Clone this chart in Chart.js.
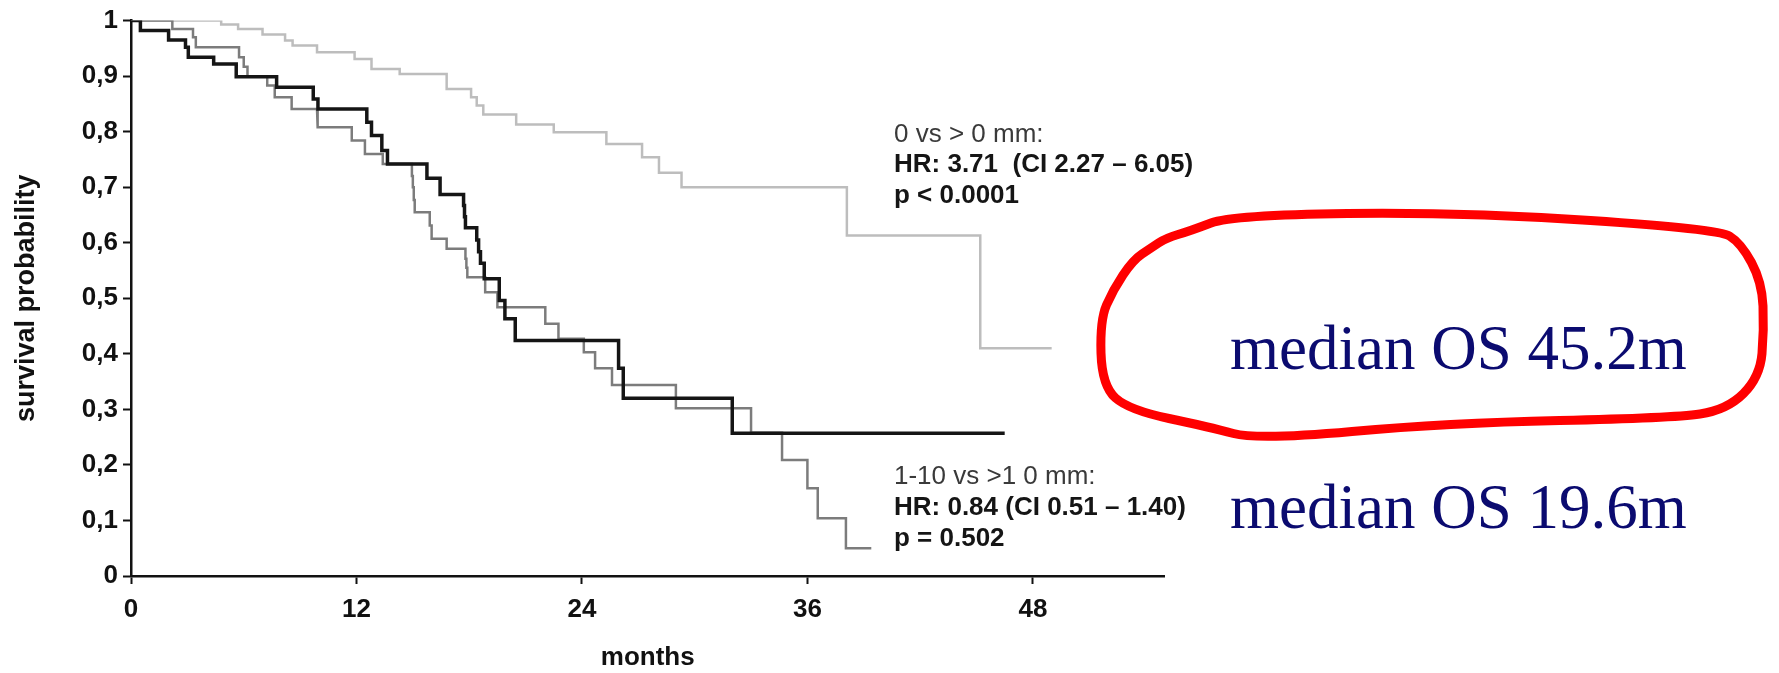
<!DOCTYPE html>
<html>
<head>
<meta charset="utf-8">
<script src="https://cdn.jsdelivr.net/npm/chart.js@4.4.1/dist/chart.umd.min.js"></script>
<style>
  html, body { margin: 0; padding: 0; background: #fff; }
  canvas { display: block; }
</style>
</head>
<body>
<canvas id="km" width="1779" height="673"></canvas>
<script>
// Kaplan–Meier overall survival by depth of invasion.
// Each group: event times (months) and the survival probability after each event.

const monthTicks = [0, 12, 24, 36, 48];
const probTicks  = [0, 0.1, 0.2, 0.3, 0.4, 0.5, 0.6, 0.7, 0.8, 0.9, 1];
const probLabels = ['0', '0,1', '0,2', '0,3', '0,4', '0,5', '0,6', '0,7', '0,8', '0,9', '1'];

// 0 mm
const zeroTimes = [4.8, 5.7, 7.0, 8.2, 8.6, 9.9, 11.9, 12.8, 14.3, 16.8, 18.1, 18.4, 18.75,
                   20.5, 22.5, 25.3, 27.2, 28.1, 29.3, 38.1, 45.2];
const zeroSurv  = [0.993, 0.985, 0.975, 0.964, 0.955, 0.943, 0.931, 0.913, 0.904, 0.877, 0.862,
                   0.847, 0.831, 0.813, 0.799, 0.778, 0.754, 0.726, 0.700, 0.613, 0.410];
const zeroEnd   = 49.0;

// 1-10 mm
const midTimes = [0.5, 2.0, 2.9, 3.05, 4.4, 5.6, 7.75, 9.7, 9.95, 12.55, 12.8, 13.35, 13.65,
                  15.75, 16.45, 17.7, 17.75, 17.8, 18.4, 18.5, 18.6, 18.8, 19.6, 19.9, 20.45,
                  25.95, 26.2, 32.0];
const midSurv  = [0.982, 0.965, 0.952, 0.934, 0.922, 0.899, 0.880, 0.859, 0.841, 0.817, 0.793,
                  0.766, 0.742, 0.716, 0.687, 0.667, 0.647, 0.627, 0.605, 0.584, 0.563, 0.535,
                  0.496, 0.463, 0.424, 0.374, 0.320, 0.257];
const midEnd   = 46.5;

// >10 mm
const deepTimes = [2.2, 3.3, 3.45, 5.75, 6.0, 6.2, 7.25, 7.65, 8.55, 9.9, 9.95, 11.75, 12.45,
                   13.4, 14.95, 15.0, 15.05, 15.1, 15.9, 16.0, 16.8, 17.8, 17.85, 17.9, 18.85,
                   19.5, 22.05, 22.75, 24.1, 24.7, 25.6, 29.0, 33.0, 34.65, 36.0, 36.55, 38.05];
const deepSurv  = [0.985, 0.970, 0.952, 0.934, 0.917, 0.900, 0.883, 0.862, 0.841, 0.824, 0.808,
                   0.784, 0.760, 0.742, 0.720, 0.700, 0.677, 0.655, 0.631, 0.607, 0.589, 0.571,
                   0.555, 0.538, 0.511, 0.484, 0.454, 0.427, 0.403, 0.374, 0.344, 0.302, 0.258,
                   0.209, 0.158, 0.104, 0.050];
const deepEnd   = 39.4;

const statsZero = ['0 vs > 0 mm:', 'HR: 3.71  (CI 2.27 \u2013 6.05)', 'p < 0.0001'];
const statsMid  = ['1-10 vs >1 0 mm:', 'HR: 0.84 (CI 0.51 \u2013 1.40)', 'p = 0.502'];
const medianLabels = ['median OS 45.2m', 'median OS 19.6m'];

// Turn event lists into a step polyline starting at (0, 1)
function kmSteps(times, surv, end) {
  const pts = [{ x: 0, y: 1 }];
  let prev = 1;
  times.forEach((t, i) => {
    pts.push({ x: t, y: prev });
    pts.push({ x: t, y: surv[i] });
    prev = surv[i];
  });
  pts.push({ x: end, y: prev });
  return pts;
}

const SANS = '"Liberation Sans", Arial, Helvetica, sans-serif';
const SERIF = '"Liberation Serif", "Times New Roman", serif';

const annotations = {
  id: 'annotations',
  afterDraw(chart) {
    const ctx = chart.ctx;
    ctx.save();
    ctx.textAlign = 'left';
    ctx.textBaseline = 'alphabetic';

    const block = (lines, x, baselines) => {
      ctx.fillStyle = '#3a3a3a';
      ctx.font = '26px ' + SANS;
      ctx.fillText(lines[0], x, baselines[0]);
      ctx.fillStyle = '#151515';
      ctx.font = 'bold 26px ' + SANS;
      ctx.fillText(lines[1], x, baselines[1]);
      ctx.fillText(lines[2], x, baselines[2]);
    };
    block(statsZero, 894, [142, 172, 203]);
    block(statsMid, 894, [484, 515, 546]);

    ctx.fillStyle = '#0b0b70';
    ctx.font = '63px ' + SERIF;
    ctx.fillText(medianLabels[0], 1230, 369);
    ctx.fillText(medianLabels[1], 1230, 528);

    // hand-drawn red ring around the first median
    const ring = [
      [1190, 231], [1232, 215], [1463, 212], [1718, 229], [1741, 243], [1762, 282],
      [1764, 330], [1760, 377], [1727, 410], [1673, 418], [1446, 423], [1258, 440],
      [1209, 427], [1129, 410], [1102, 386], [1100, 320], [1113, 290], [1133, 260],
      [1151, 248], [1166, 238]
    ];
    ctx.strokeStyle = '#ff0000';
    ctx.lineWidth = 9;
    ctx.lineJoin = 'round';
    ctx.lineCap = 'round';
    ctx.beginPath();
    const n = ring.length;
    const mid = (a, b) => [(a[0] + b[0]) / 2, (a[1] + b[1]) / 2];
    const start = mid(ring[n - 1], ring[0]);
    ctx.moveTo(start[0], start[1]);
    for (let i = 0; i < n; i++) {
      const p = ring[i];
      const m = mid(p, ring[(i + 1) % n]);
      ctx.quadraticCurveTo(p[0], p[1], m[0], m[1]);
    }
    ctx.closePath();
    ctx.stroke();
    ctx.restore();
  }
};

const tickFont = { family: SANS, size: 26, weight: 'bold' };

new Chart(document.getElementById('km'), {
  type: 'scatter',
  data: {
    datasets: [
      { data: kmSteps(midTimes, midSurv, midEnd), borderColor: '#151515', borderWidth: 3.5 },
      { data: kmSteps(deepTimes, deepSurv, deepEnd), borderColor: '#7c7c7c', borderWidth: 2.5 },
      { data: kmSteps(zeroTimes, zeroSurv, zeroEnd), borderColor: '#bdbdbd', borderWidth: 2.5 }
    ].map(d => Object.assign(d, { showLine: true, pointRadius: 0, fill: false, tension: 0 }))
  },
  options: {
    responsive: false,
    animation: false,
    devicePixelRatio: 1,
    layout: { padding: { left: 0, top: 20, right: 614.6, bottom: 0 } },
    plugins: { legend: { display: false }, tooltip: { enabled: false } },
    scales: {
      x: {
        type: 'linear',
        min: 0,
        max: 55,
        afterBuildTicks: s => { s.ticks = monthTicks.map(v => ({ value: v })); },
        afterFit: s => { s.height = 97; },
        border: { display: true, color: '#111', width: 2.5 },
        grid: { display: true, drawOnChartArea: false, drawTicks: true, tickLength: 8, tickColor: '#111', tickWidth: 2 },
        ticks: { color: '#111', font: tickFont, padding: 10, maxRotation: 0, autoSkip: false },
        title: { display: true, text: 'months', color: '#111', font: tickFont, padding: { top: 0, bottom: 0 } }
      },
      y: {
        type: 'linear',
        min: 0,
        max: 1,
        afterBuildTicks: s => { s.ticks = probTicks.map(v => ({ value: v })); },
        afterFit: s => { s.width = 131; },
        border: { display: true, color: '#111', width: 2.5 },
        grid: { display: true, drawOnChartArea: false, drawTicks: true, tickLength: 8, tickColor: '#111', tickWidth: 2 },
        ticks: { color: '#111', font: tickFont, padding: 5, autoSkip: false,
                 callback: (v, i) => probLabels[i] },
        title: { display: true, text: 'survival probability', color: '#111',
                 font: { family: SANS, size: 27, weight: 'bold' }, padding: { top: 10, bottom: 0 } }
      }
    }
  },
  plugins: [annotations]
});
</script>
</body>
</html>
